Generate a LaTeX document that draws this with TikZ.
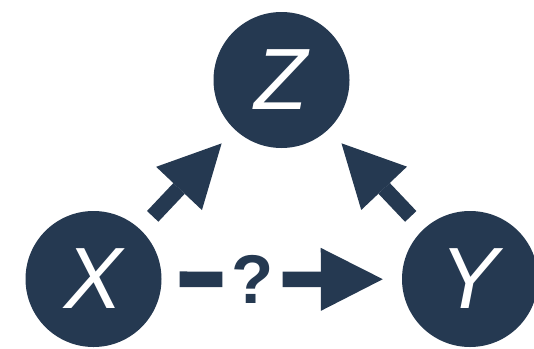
\documentclass[tikz,border=0pt]{standalone}
\usepackage{fontspec}
\setmainfont{Liberation Sans}
\usetikzlibrary{arrows.meta}
\definecolor{navy}{RGB}{37,57,81}
\begin{document}
\begin{tikzpicture}[x=1pt,y=-1pt,
  var/.style={circle,fill=navy,minimum size=136pt,inner sep=0pt,text=white,
    font=\fontsize{87}{87}\selectfont\itshape},
  bar/.style={draw=navy,line width=15.6pt},
  link/.style={bar,-{Triangle[length=62pt,width=63pt,line width=0pt]},
    shorten <=18pt,shorten >=19pt},
  qlabel/.style={text=navy,inner sep=0pt,minimum width=60pt,
    font=\fontsize{69}{69}\selectfont\bfseries}]
\useasboundingbox (0,0) rectangle (534,348);
% variables
\node[var] (Z) at (281.5,80) {Z};
\node[var] (X) at (93.5,279) {X};
\node[var] (Y) at (470,279) {Y};
% unknown link label
\node[qlabel] (q) at (252.5,279.5) {?};
% causal edges
\draw[link] (X) -- (Z);
\draw[link] (Y) -- (Z);
\draw[bar,shorten <=18pt] (X) -- (q);
\draw[link,shorten <=0pt] (q) -- (Y);
\end{tikzpicture}
\end{document}
